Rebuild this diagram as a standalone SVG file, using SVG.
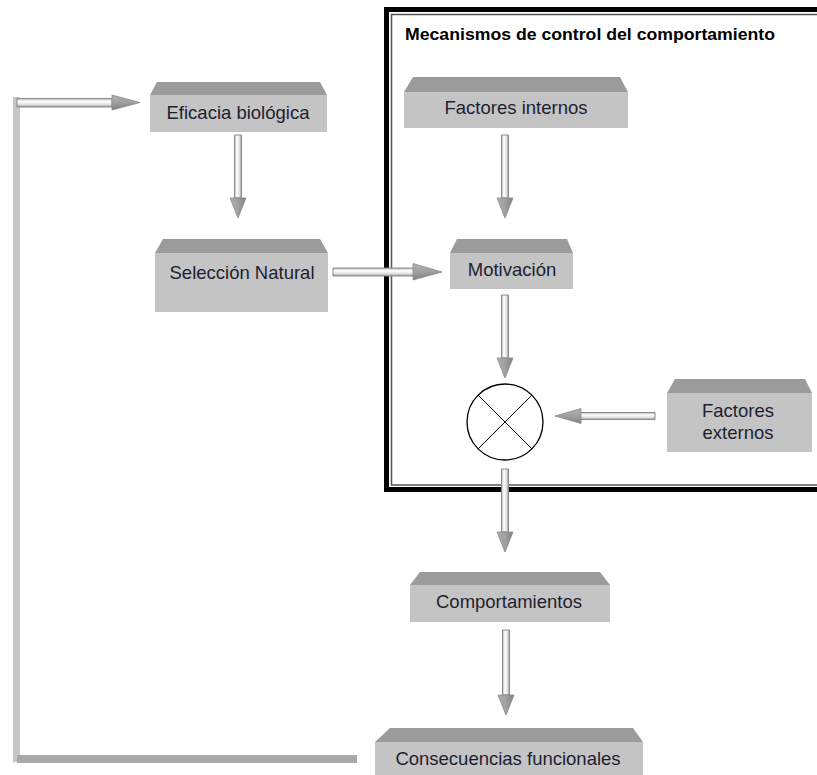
<svg xmlns="http://www.w3.org/2000/svg" width="817" height="775" viewBox="0 0 817 775">
<defs>
<linearGradient id="shaftV" x1="0" y1="0" x2="1" y2="0">
<stop offset="0" stop-color="#b8b8b8"/><stop offset="0.35" stop-color="#ffffff"/><stop offset="0.7" stop-color="#e2e2e2"/><stop offset="1" stop-color="#9a9a9a"/>
</linearGradient>
<linearGradient id="shaftH" x1="0" y1="0" x2="0" y2="1">
<stop offset="0" stop-color="#b8b8b8"/><stop offset="0.35" stop-color="#ffffff"/><stop offset="0.7" stop-color="#e2e2e2"/><stop offset="1" stop-color="#9a9a9a"/>
</linearGradient>
<linearGradient id="headV" x1="0" y1="0" x2="1" y2="0">
<stop offset="0" stop-color="#b0b0b0"/><stop offset="0.5" stop-color="#a0a0a0"/><stop offset="1" stop-color="#808080"/>
</linearGradient>
<linearGradient id="headH" x1="0" y1="0" x2="0" y2="1">
<stop offset="0" stop-color="#b0b0b0"/><stop offset="0.5" stop-color="#a0a0a0"/><stop offset="1" stop-color="#808080"/>
</linearGradient>
</defs>
<style>
.top{fill:#9b9b9b}
.body{fill:#c4c4c4}
.lbl{font-family:"Liberation Sans",Arial,sans-serif;font-size:18.5px;fill:#1e1e30;text-anchor:middle}
.title{font-family:"Liberation Sans",Arial,sans-serif;font-size:16px;font-weight:bold;fill:#000}
.sv{fill:url(#shaftV);stroke:#8a8a8a;stroke-width:1}
.sh{fill:url(#shaftH);stroke:#8a8a8a;stroke-width:1}
.hv{fill:url(#headV);stroke:#8a8a8a;stroke-width:0.8}
.hh{fill:url(#headH);stroke:#8a8a8a;stroke-width:0.8}
</style>
<rect width="817" height="775" fill="#fff"/>

<g id="frame">
<rect x="386.5" y="9.5" width="450" height="480" fill="none" stroke="#000" stroke-width="5"/>
<rect x="391.5" y="14.5" width="440" height="470.5" fill="none" stroke="#555" stroke-width="1.5"/>
<text class="title" x="405" y="40" textLength="370" lengthAdjust="spacingAndGlyphs">Mecanismos de control del comportamiento</text>
</g>

<g id="connectors">
<rect x="13" y="97" width="7" height="665" fill="#c6c6c6"/>
<rect x="17" y="755" width="340" height="8" fill="#a8a8a8"/>
<path class="sh" d="M17,98.5 H112 V107 H17 Z"/>
<path class="hh" d="M112,95 L140,102.5 L112,110 Z"/>
<path class="sv" d="M234.5,135 H241.5 V198 H234.5 Z"/>
<path class="hv" d="M230,198 H246 L238,218 Z"/>
<path class="sv" d="M501.5,135 H508.5 V198 H501.5 Z"/>
<path class="hv" d="M497,198 H513 L505,218 Z"/>
<path class="sh" d="M333,268 H414 V276 H333 Z"/>
<path class="hh" d="M413,263.5 L442,272 L413,280 Z"/>
<path class="sv" d="M501.5,295 H508.5 V358 H501.5 Z"/>
<path class="hv" d="M497,358 H513 L505,378 Z"/>
<path class="sh" d="M580,412.5 H655 V419.5 H580 Z"/>
<path class="hh" d="M581,408.5 L555,416 L581,423.5 Z"/>
<path class="sv" d="M501.5,469 H508.5 V532 H501.5 Z"/>
<path class="hv" d="M497,532 H513 L505,552 Z"/>
<path class="sv" d="M502.5,630 H509.5 V695 H502.5 Z"/>
<path class="hv" d="M498,695 H514 L506,715 Z"/>
</g>

<g id="eficacia">
<polygon class="top" points="157,82 320,82 327,95 150,95"/>
<rect class="body" x="150" y="95" width="177" height="37"/>
<text class="lbl" x="238" y="118.5">Eficacia biológica</text>
</g>

<g id="seleccion">
<polygon class="top" points="163,239 320,239 328,253 155,253"/>
<rect class="body" x="155" y="253" width="173" height="59"/>
<text class="lbl" x="242" y="278.5">Selección Natural</text>
</g>

<g id="factores-internos">
<polygon class="top" points="413,77 620,77 628,92 404,92"/>
<rect class="body" x="404" y="92" width="224" height="36"/>
<text class="lbl" x="516" y="113.5">Factores internos</text>
</g>

<g id="motivacion">
<polygon class="top" points="457,239 567,239 573,253 450,253"/>
<rect class="body" x="450" y="253" width="123" height="36"/>
<text class="lbl" x="512" y="275.5">Motivación</text>
</g>

<g id="combinador">
<circle cx="505" cy="422" r="38" fill="#fff" stroke="#000" stroke-width="1.3"/>
<line x1="478.1" y1="395.1" x2="531.9" y2="448.9" stroke="#000" stroke-width="1"/>
<line x1="531.9" y1="395.1" x2="478.1" y2="448.9" stroke="#000" stroke-width="1"/>
</g>

<g id="factores-externos">
<polygon class="top" points="675,379 805,379 812,393 667,393"/>
<rect class="body" x="667" y="393" width="145" height="59"/>
<text class="lbl" x="738" y="417">Factores</text>
<text class="lbl" x="738" y="438.5">externos</text>
</g>

<g id="comportamientos">
<polygon class="top" points="420,572 600,572 610,585 410,585"/>
<rect class="body" x="410" y="585" width="200" height="37"/>
<text class="lbl" x="509" y="607.5">Comportamientos</text>
</g>

<g id="consecuencias">
<polygon class="top" points="390,728 633,728 643,742 375,742"/>
<rect class="body" x="375" y="742" width="268" height="40"/>
<text class="lbl" x="508" y="764.5">Consecuencias funcionales</text>
</g>
</svg>
